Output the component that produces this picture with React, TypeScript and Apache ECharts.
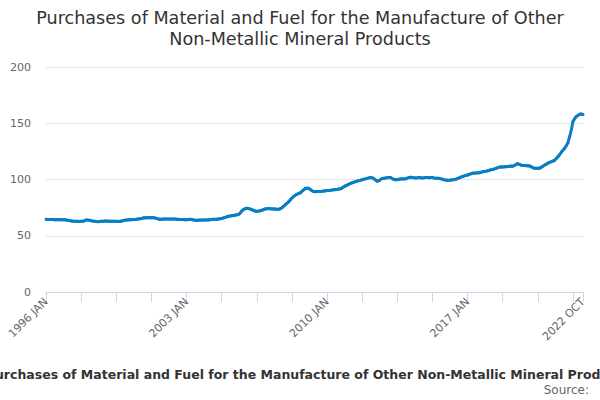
import React, { useEffect, useRef } from "react";
import * as echarts from "echarts";

const TITLE = "Purchases of Material and Fuel for the Manufacture of Other\nNon-Metallic Mineral Products";
const SUBTEXT = "Purchases of Material and Fuel for the Manufacture of Other Non-Metallic Mineral Products";
const SOURCE = "Source:";

const MONTHS = ["JAN", "FEB", "MAR", "APR", "MAY", "JUN", "JUL", "AUG", "SEP", "OCT", "NOV", "DEC"];
const START_YEAR = 1996;

const v1996 = [64.6, 64.5, 64.5, 64.4, 64.4, 64.3, 64.3, 64.4, 64.3, 64.2, 64.3, 64.2];
const v1997 = [64.0, 63.8, 63.5, 63.2, 63.0, 62.9, 62.8, 62.8, 62.7, 62.8, 62.9, 63.3];
const v1998 = [64.0, 63.9, 63.7, 63.4, 63.1, 62.9, 62.7, 62.5, 62.6, 62.8, 62.9, 63.0];
const v1999 = [63.1, 63.0, 62.9, 62.8, 62.8, 62.9, 62.8, 62.7, 62.8, 63.0, 63.3, 63.7];
const v2000 = [64.0, 64.1, 64.2, 64.3, 64.4, 64.5, 64.6, 64.8, 65.1, 65.4, 65.8, 65.9];
const v2001 = [66.0, 66.0, 66.1, 66.1, 66.1, 65.9, 65.4, 65.0, 64.6, 64.7, 64.8, 64.8];
const v2002 = [64.9, 64.9, 64.8, 64.9, 64.9, 64.8, 64.7, 64.6, 64.5, 64.5, 64.4, 64.3];
const v2003 = [64.3, 64.4, 64.6, 64.4, 64.1, 63.8, 63.7, 63.8, 63.9, 63.9, 64.0, 64.0];
const v2004 = [64.0, 64.1, 64.3, 64.5, 64.6, 64.7, 64.6, 64.8, 65.1, 65.4, 65.8, 66.3];
const v2005 = [66.8, 67.3, 67.6, 67.8, 68.0, 68.3, 68.6, 68.8, 70.0, 72.0, 73.2, 74.0];
const v2006 = [74.4, 74.2, 73.8, 73.2, 72.6, 72.0, 71.7, 71.9, 72.3, 72.6, 73.2, 73.8];
const v2007 = [74.1, 74.2, 74.0, 73.9, 73.8, 73.7, 73.6, 73.5, 74.0, 74.8, 76.2, 77.5];
const v2008 = [78.8, 80.1, 81.8, 83.5, 84.8, 86.0, 86.8, 87.6, 88.1, 89.5, 90.8, 92.0];
const v2009 = [92.3, 92.2, 91.2, 90.0, 89.3, 89.2, 89.3, 89.4, 89.3, 89.5, 89.7, 89.9];
const v2010 = [90.2, 90.3, 90.5, 90.6, 90.8, 91.0, 91.2, 91.5, 91.7, 92.5, 93.5, 94.3];
const v2011 = [95.0, 95.8, 96.5, 97.1, 97.6, 98.1, 98.6, 99.0, 99.4, 99.8, 100.2, 100.6];
const v2012 = [101.0, 101.4, 101.8, 101.5, 100.6, 99.5, 98.5, 99.0, 100.0, 100.9, 101.1, 101.3];
const v2013 = [101.5, 101.7, 101.8, 100.8, 100.0, 99.7, 99.9, 100.2, 100.4, 100.6, 100.5, 100.7];
const v2014 = [101.2, 101.7, 102.0, 101.8, 101.5, 101.3, 101.5, 101.8, 101.6, 101.3, 101.5, 101.7];
const v2015 = [101.8, 101.6, 101.8, 101.7, 101.3, 101.0, 101.2, 101.0, 100.6, 100.2, 99.8, 99.5];
const v2016 = [99.4, 99.3, 99.5, 99.7, 99.9, 100.3, 100.8, 101.5, 102.1, 102.6, 103.2, 103.6];
const v2017 = [104.0, 104.6, 105.1, 105.5, 105.7, 105.8, 105.9, 106.0, 106.4, 106.8, 107.1, 107.4];
const v2018 = [107.8, 108.2, 108.6, 108.9, 109.4, 109.9, 110.5, 111.0, 111.2, 111.1, 111.3, 111.3];
const v2019 = [111.5, 111.7, 111.9, 111.8, 112.5, 113.4, 114.0, 113.5, 112.8, 112.5, 112.4, 112.3];
const v2020 = [112.2, 112.1, 111.3, 110.5, 110.0, 109.9, 110.0, 110.1, 110.8, 111.7, 112.8, 113.6];
const v2021 = [114.5, 115.2, 115.8, 116.4, 117.0, 118.6, 120.3, 122.0, 124.2, 126.0, 127.7, 130.0];
const v2022 = [132.7, 138.0, 144.0, 151.5, 154.0, 156.0, 157.0, 158.0, 158.2, 157.7];

const YEARS = [
  v1996, v1997, v1998, v1999, v2000, v2001, v2002, v2003, v2004, v2005, v2006, v2007, v2008,
  v2009, v2010, v2011, v2012, v2013, v2014, v2015, v2016, v2017, v2018, v2019, v2020, v2021, v2022,
];

const Y_MIN = 0;
const Y_MAX = 200;
const Y_STEP = 50;
const TICK_EVERY = 21;
const LABEL_EVERY = 84;

export default function App() {
  const ref = useRef<HTMLDivElement>(null);

  useEffect(() => {
    document.body.style.margin = "0";
    if (!ref.current) return;
    const chart = echarts.init(ref.current, undefined, { renderer: "svg" });

    const categories: string[] = [];
    const values: number[] = [];
    YEARS.forEach((arr, yi) => {
      arr.forEach((v, mi) => {
        categories.push(`${START_YEAR + yi} ${MONTHS[mi]}`);
        values.push(v);
      });
    });
    const last = categories.length - 1;
    const font = "DejaVu Sans, sans-serif";

    chart.setOption({
      animation: false,
      title: {
        text: TITLE,
        left: "center",
        top: 2,
        textStyle: { fontFamily: font, fontSize: 17.6, fontWeight: "normal", color: "#333333", lineHeight: 21 },
      },
      grid: { left: 46, right: 17, top: 67, bottom: 108, containLabel: false },
      xAxis: {
        type: "category",
        data: categories,
        boundaryGap: false,
        axisLine: { lineStyle: { color: "#ccd6eb" } },
        axisTick: {
          length: 10,
          lineStyle: { color: "#ccd6eb" },
          interval: (i: number) => i % TICK_EVERY === 0 || i === last,
        },
        axisLabel: {
          rotate: 45,
          fontFamily: font,
          fontSize: 11,
          color: "#666666",
          margin: 8,
          interval: (i: number) => i % LABEL_EVERY === 0 || i === last,
        },
        splitLine: { show: false },
      },
      yAxis: {
        type: "value",
        min: Y_MIN,
        max: Y_MAX,
        interval: Y_STEP,
        axisLine: { show: false },
        axisTick: { show: false },
        axisLabel: { fontFamily: font, fontSize: 11, color: "#666666", margin: 15 },
        splitLine: { lineStyle: { color: "#e6e6e6" } },
      },
      series: [
        {
          type: "line",
          data: values,
          symbol: "circle",
          symbolSize: 3,
          showSymbol: true,
          showAllSymbol: true,
          itemStyle: { color: "#0a7ec3" },
          lineStyle: { color: "#0a7ec3", width: 3 },
        },
      ],
      graphic: [
        {
          type: "text",
          x: 308,
          y: 374,
          style: {
            text: SUBTEXT,
            align: "center",
            verticalAlign: "middle",
            fontFamily: font,
            fontSize: 12.5,
            fontWeight: "bold",
            fill: "#333333",
          },
        },
        {
          type: "text",
          x: 589,
          y: 390,
          style: {
            text: SOURCE,
            align: "right",
            verticalAlign: "middle",
            fontFamily: font,
            fontSize: 12,
            fill: "#666666",
          },
        },
      ],
    });

    return () => chart.dispose();
  }, []);

  return <div ref={ref} style={{ width: 600, height: 400 }} />;
}
